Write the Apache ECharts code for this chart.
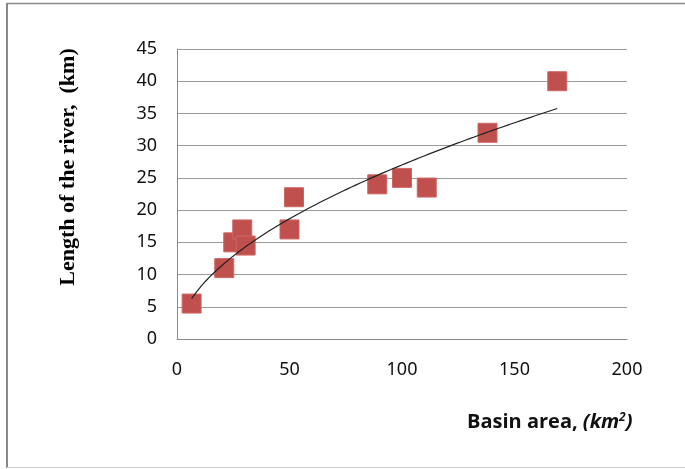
<!DOCTYPE html>
<html>
<head>
<meta charset="utf-8">
<script src="https://cdn.jsdelivr.net/npm/echarts@6/dist/echarts.min.js"></script>
<style>
html,body{margin:0;padding:0;background:#fff;}
#c{width:685px;height:469px;}
</style>
</head>
<body>
<div id="c"></div>
<script>
// Basin area (km2)
const basinArea = [6.5, 21, 25, 29, 30.5, 50, 52, 89, 100, 111, 138, 169];
// Length of the river (km)
const riverLength = [5.5, 11, 15, 17, 14.5, 17, 22, 24, 25, 23.5, 32, 40];
const xTicks = [0, 50, 100, 150, 200];
const yTicks = [0, 5, 10, 15, 20, 25, 30, 35, 40, 45];

const points = basinArea.map((x, i) => [x, riverLength[i]]);

// Power trendline (least squares in log-log space), as Excel's power trendline
const n = points.length;
const lx = basinArea.map(Math.log), ly = riverLength.map(Math.log);
const mx = lx.reduce((a, b) => a + b, 0) / n, my = ly.reduce((a, b) => a + b, 0) / n;
let sxy = 0, sxx = 0;
for (let i = 0; i < n; i++) { sxy += (lx[i] - mx) * (ly[i] - my); sxx += (lx[i] - mx) ** 2; }
const b = sxy / sxx, a = Math.exp(my - b * mx);
const xmin = Math.min(...basinArea), xmax = Math.max(...basinArea);
const trend = [];
for (let k = 0; k <= 80; k++) {
  const x = xmin + (xmax - xmin) * k / 80;
  trend.push([x, a * Math.pow(x, b)]);
}

const chart = echarts.init(document.getElementById('c'), null, {renderer: 'canvas'});
const labelFont = {fontFamily: 'Noto Sans', fontSize: 18, color: '#111'};
chart.setOption({
  animation: false,
  backgroundColor: '#fff',
  grid: {left: 177, right: 58, top: 49, bottom: 130},
  xAxis: {
    type: 'value', min: 0, max: 200, interval: 50,
    axisLine: {show: true, lineStyle: {color: '#8a8a8a', width: 1}},
    axisTick: {show: false},
    splitLine: {show: false},
    axisLabel: Object.assign({margin: 22, formatter: v => xTicks.includes(v) ? String(v) : ''}, labelFont)
  },
  yAxis: {
    type: 'value', min: 0, max: 45, interval: 5,
    axisLine: {show: true, lineStyle: {color: '#8a8a8a', width: 1}},
    axisTick: {show: false},
    splitLine: {show: true, lineStyle: {color: '#9a9a9a', width: 1}},
    axisLabel: Object.assign({margin: 20, formatter: v => yTicks.includes(v) ? String(v) : ''}, labelFont)
  },
  series: [
    {
      type: 'scatter',
      data: points,
      symbol: 'rect',
      symbolSize: 19,
      itemStyle: {color: '#C0504D', borderColor: '#cc6663', borderWidth: 1, opacity: 1},
      z: 2
    },
    {
      type: 'line',
      data: trend,
      showSymbol: false,
      symbol: 'none',
      smooth: false,
      lineStyle: {color: '#222', width: 1.2},
      z: 3
    }
  ],
  graphic: [
    {type: 'line', shape: {x1: 7, y1: 3.5, x2: 690, y2: 3.5}, style: {stroke: '#888', lineWidth: 1.5}, silent: true},
    {type: 'line', shape: {x1: 7, y1: 3, x2: 7, y2: 468}, style: {stroke: '#888', lineWidth: 2}, silent: true},
    {type: 'line', shape: {x1: 7, y1: 467.5, x2: 690, y2: 467.5}, style: {stroke: '#cfcfcf', lineWidth: 1}, silent: true},
    {
      type: 'text', x: 68, y: 167, rotation: Math.PI / 2,
      style: {
        text: 'Length of the river,  (km)',
        fontFamily: 'Liberation Serif', fontWeight: 'bold', fontSize: 22, fill: '#000',
        textAlign: 'center', textVerticalAlign: 'middle'
      }
    },
    {
      type: 'text', left: 467, top: 412,
      style: {
        text: '{a|Basin area, }{b|(km}{s|2}{b|)}',
        rich: {
          a: {fontFamily: 'Open Sans', fontWeight: 'bold', fontSize: 20, fill: '#111'},
          b: {fontFamily: 'Open Sans', fontWeight: 'bold', fontStyle: 'italic', fontSize: 20, fill: '#111'},
          s: {fontFamily: 'Open Sans', fontWeight: 'bold', fontStyle: 'italic', fontSize: 12, fill: '#111', verticalAlign: 'top', padding: [0, 0, 9, 0]}
        }
      }
    }
  ]
});
</script>
</body>
</html>
